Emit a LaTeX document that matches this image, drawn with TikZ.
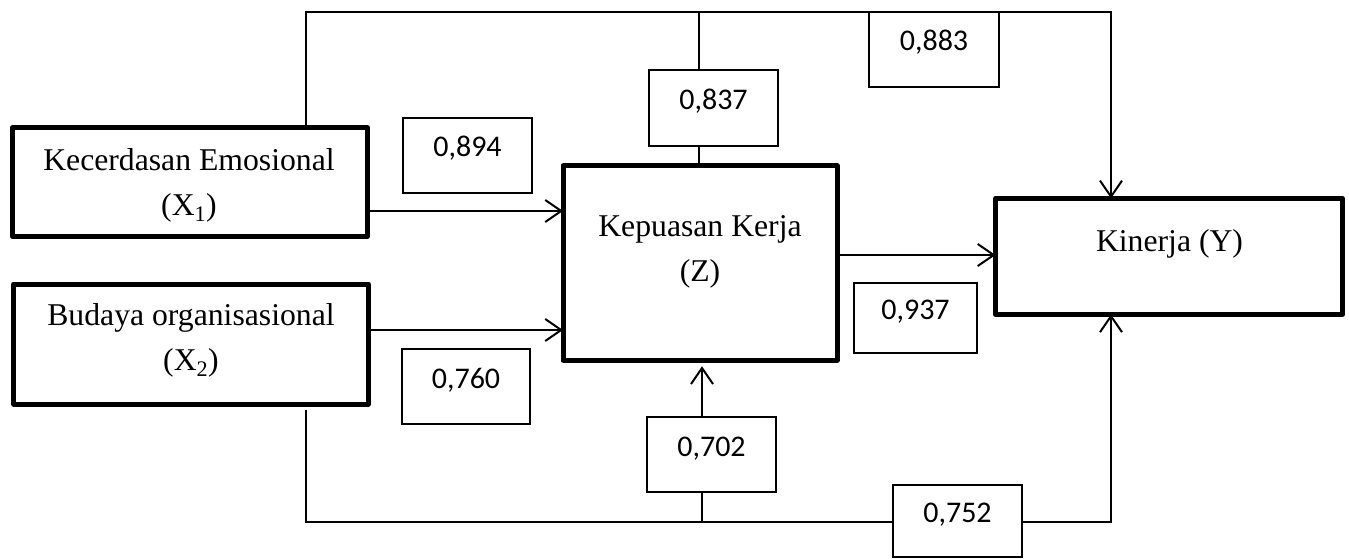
\documentclass[tikz,border=0pt]{standalone}
\usepackage{fontspec}
\setmainfont{Liberation Serif}
\newfontfamily\numfont{Carlito}
\usetikzlibrary{arrows.meta}
\begin{document}
\begin{tikzpicture}[x=1pt,y=-1pt,
  bigbox/.style={draw, rectangle, line width=5pt, line join=round, inner sep=0pt, outer sep=0pt},
  valbox/.style={draw, rectangle, line width=2pt, inner sep=0pt, outer sep=0pt,
     font=\numfont\fontsize{30}{36}\selectfont, text height=10pt, text depth=7pt},
  bigtext/.style={font=\fontsize{31.7}{45}\selectfont, align=center, inner sep=0pt},
  conn/.style={line width=2pt},
  arr/.style={conn, -{Straight Barb[length=16pt,width=22pt]}}]
\useasboundingbox (0,0) rectangle (1349,559);
% main boxes
\node[bigbox, minimum width=355pt, minimum height=108.5pt] (X1) at (190,182) {};
\node[bigbox, minimum width=354.5pt, minimum height=120pt] (X2) at (191,344) {};
\node[bigbox, minimum width=274pt, minimum height=194.5pt] (Z) at (700,263) {};
\node[bigbox, minimum width=347pt, minimum height=116pt] (Y) at (1169,256.4) {};
% texts
\node[bigtext] (X1t) at (189,185) {Kecerdasan Emosional\\(X\textsubscript{1})};
\node[bigtext] (X2t) at (191,340) {Budaya organisasional\\(X\textsubscript{2})};
\node[bigtext] (Zt) at (700,252) {Kepuasan Kerja\\(Z)};
\node[bigtext, anchor=base] (Yt) at (1169.5,251) {Kinerja (Y)};
% value boxes
\node[valbox, minimum width=129pt, minimum height=75pt] (b894) at (467.5,155.5) {0,894};
\node[valbox, minimum width=129pt, minimum height=76pt] (b837) at (713.5,108) {0,837};
\node[valbox, minimum width=130pt, minimum height=75pt] (b883) at (934,49.5) {0,883};
\node[valbox, minimum width=123pt, minimum height=70pt] (b937) at (915.5,318) {0,937};
\node[valbox, minimum width=128pt, minimum height=75pt] (b760) at (466,386.5) {0,760};
\node[valbox, minimum width=129pt, minimum height=75pt] (b702) at (711.5,454.5) {0,702};
\node[valbox, minimum width=129pt, minimum height=72pt] (b752) at (957.5,521) {0,752};
% helper coordinates
\coordinate (tl) at (306,12);
\coordinate (tm) at (699,12);
\coordinate (tr) at (1111,12);
\coordinate (bl) at (306,522);
\coordinate (bm) at (702,522);
\coordinate (br) at (1111,522);
\path ([yshift=-6pt]X2.south) coordinate (x2s);
\path ([yshift=-6pt]Z.south) coordinate (zs);
% connectors
\draw[arr] (X1.north -| tl) -- (tl) -- (tr) -- (Y.north -| tr);
\draw[conn] (tm) -- (b837.north -| tm);
\draw[conn] (b837.south -| tm) -- (Z.north -| tm);
\draw[arr] (X1.east |- 0,211) -- (Z.west |- 0,211);
\draw[arr] (X2.east |- 0,330) -- (Z.west |- 0,330);
\draw[arr] (Z.east |- 0,255) -- (Y.west |- 0,255);
\draw[conn] (x2s -| bl) -- (bl) -- (b752.west |- bl);
\draw[conn] (bm) -- (b702.south -| bm);
\draw[arr] (b702.north -| bm) -- (zs -| bm);
\draw[arr] (b752.east |- br) -- (br) -- (Y.south -| br);
\end{tikzpicture}
\end{document}
